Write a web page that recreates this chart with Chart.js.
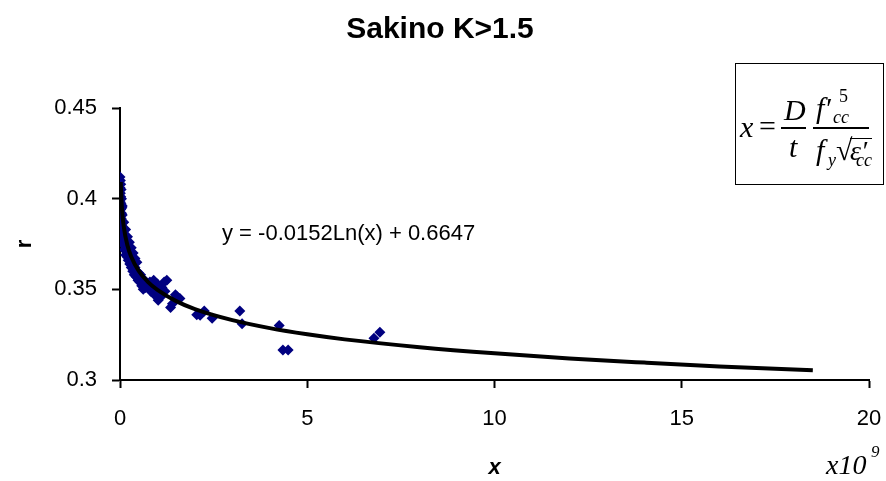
<!DOCTYPE html>
<html>
<head>
<meta charset="utf-8">
<script src="https://cdn.jsdelivr.net/npm/chart.js@4/dist/chart.umd.min.js"></script>
<style>
body{margin:0;background:#fff;}
#wrap{position:relative;width:886px;height:481px;}
.m{position:absolute;font-family:'Liberation Serif','Times New Roman',serif;font-style:italic;line-height:1;white-space:nowrap;color:#000;}
#box{position:absolute;left:735px;top:63px;width:149px;height:122px;border:1.5px solid #000;box-sizing:border-box;}
.bar{position:absolute;height:1.5px;background:#000;}
#eq{position:absolute;left:222px;top:220px;font:22px 'Liberation Sans',Arial,sans-serif;white-space:nowrap;}
</style>
</head>
<body>
<div id="wrap">
<canvas id="c" width="886" height="481"></canvas>
<div id="eq">y = -0.0152Ln(x) + 0.6647</div>
<div id="box">
  <span class="m" style="left:4px;top:48px;font-size:30px;">x</span>
  <span class="m" style="left:23px;top:47px;font-size:30px;font-style:normal;">=</span>
  <span class="m" style="left:48px;top:31px;font-size:30px;">D</span>
  <div class="bar" style="left:45px;top:63px;width:25px;"></div>
  <span class="m" style="left:53px;top:68px;font-size:30px;">t</span>
  <span class="m" style="left:80px;top:29px;font-size:30px;">f′</span>
  <span class="m" style="left:103px;top:23px;font-size:18px;font-style:normal;">5</span>
  <span class="m" style="left:97px;top:44px;font-size:18px;">cc</span>
  <div class="bar" style="left:77px;top:63px;width:56px;"></div>
  <span class="m" style="left:80px;top:71px;font-size:30px;">f</span>
  <span class="m" style="left:92px;top:87px;font-size:18px;">y</span>
  <span class="m" style="left:100px;top:71px;font-size:30px;font-style:normal;">√</span>
  <div class="bar" style="left:114px;top:74px;width:22px;height:1px;"></div>
  <span class="m" style="left:114px;top:73px;font-size:28px;">ε′</span>
  <span class="m" style="left:120px;top:87px;font-size:18px;">cc</span>
</div>
<span class="m" style="left:826px;top:451px;font-size:28px;">x10</span>
<span class="m" style="left:871px;top:443px;font-size:17px;">9</span>
</div>
<script>
// measured points, x in units of 10^9
var ptX = [0.00,0.01,0.02,0.00,0.03,0.01,0.02,0.04,0.01,0.03,0.05,0.02,0.04,0.06,0.03,0.05,0.08,0.04,0.07,0.10,
  0.06,0.09,0.12,0.08,0.11,0.14,0.10,0.13,0.17,0.12,0.16,0.20,0.15,0.19,0.24,0.22,0.28,0.26,0.32,0.30,
  0.36,0.34,0.40,0.38,0.45,0.43,0.50,0.48,0.55,0.53,0.60,0.58,0.65,0.62,0.70,0.68,0.75,0.80,0.85,0.90,
  0.95,1.00,0.82,0.92,1.02,1.05,1.12,1.18,1.25,1.10,1.20,1.35,1.40,1.48,1.52,1.60,2.05,2.14,2.25,2.46,
  3.20,3.26,4.25,4.35,4.49,6.78,6.94,
  0.06,0.10,0.15,0.20,0.25,0.30,0.35,0.40,0.45];
var ptY = [0.412,0.410,0.408,0.406,0.405,0.403,0.401,0.400,0.398,0.397,0.395,0.394,0.392,0.391,0.389,0.388,0.387,0.385,0.384,0.383,
  0.381,0.380,0.380,0.378,0.377,0.376,0.375,0.374,0.374,0.372,0.371,0.371,0.369,0.368,0.369,0.366,0.367,0.364,0.366,0.362,
  0.364,0.360,0.362,0.358,0.360,0.357,0.359,0.355,0.358,0.354,0.356,0.352,0.355,0.350,0.354,0.351,0.353,0.354,0.352,0.355,
  0.350,0.353,0.349,0.347,0.344,0.348,0.351,0.354,0.355,0.346,0.349,0.340,0.342,0.347,0.346,0.345,0.336,0.3357,0.338,0.334,
  0.338,0.331,0.330,0.3165,0.3165,0.323,0.3264,
  0.396,0.387,0.383,0.379,0.376,0.373,0.370,0.367,0.365];

// log trend line
var trendX = [0.02,0.05,0.1,0.2,0.3,0.5,0.75,1,1.5,2,3,4,5,6,8,10,12,14,16,18.5];
var trendY = [0.4092,0.3952,0.3847,0.3742,0.3680,0.3602,0.3540,0.3497,0.3435,0.3391,0.3330,0.3286,0.3252,0.3224,0.3181,0.3147,0.3119,0.3096,0.3075,0.3054];

var xTicks = [0,5,10,15,20];
var yTicks = [0.3,0.35,0.4,0.45];

var pts = ptX.map(function(x,i){ return {x:x, y:ptY[i]}; });
var trend = trendX.map(function(x,i){ return {x:x, y:trendY[i]}; });

var tickFont = {family:"'Liberation Sans', Arial, sans-serif", size:22};

new Chart(document.getElementById('c').getContext('2d'), {
  type: 'scatter',
  data: {
    datasets: [
      {label:'trend', data:trend, showLine:true, borderColor:'#000', borderWidth:4,
       pointRadius:0, cubicInterpolationMode:'monotone', order:0},
      {label:'r', data:pts, pointStyle:'rectRot', pointRadius:5.5,
       backgroundColor:'#000080', borderColor:'#000080', borderWidth:0, order:1}
    ]
  },
  options: {
    responsive:false, animation:false,
    layout:{autoPadding:false, padding:{left:0, right:6, top:0, bottom:0}},
    plugins:{
      legend:{display:false}, tooltip:{enabled:false},
      title:{display:true, text:'Sakino K>1.5', color:'#000',
        font:{family:"'Liberation Sans', Arial, sans-serif", size:30, weight:'bold'},
        padding:{top:12, bottom:60}}
    },
    scales:{
      x:{type:'linear', min:0, max:20,
        afterBuildTicks:function(s){ s.ticks = xTicks.map(function(v){return {value:v};}); },
        afterFit:function(s){ s.height = 101; s.paddingRight = 17; },
        grid:{drawOnChartArea:false, drawTicks:true, tickLength:8, tickColor:'#000', tickWidth:2},
        border:{display:true, color:'#000', width:2},
        ticks:{color:'#000', font:tickFont, padding:18, maxRotation:0},
        title:{display:true, text:'x', color:'#000',
          font:{family:"'Liberation Sans', Arial, sans-serif", size:22, weight:'bold', style:'italic'},
          padding:{top:0, bottom:0}}
      },
      y:{type:'linear', min:0.3, max:0.45,
        afterBuildTicks:function(s){ s.ticks = yTicks.map(function(v){return {value:v};}); },
        afterFit:function(s){ s.width = 120; },
        grid:{drawOnChartArea:false, drawTicks:true, tickLength:8, tickColor:'#000', tickWidth:2},
        border:{display:true, color:'#000', width:2},
        ticks:{color:'#000', font:tickFont, padding:15,
          callback:function(v){ return String(+v.toFixed(2)); }},
        title:{display:true, text:'r', color:'#000',
          font:{family:"'Liberation Sans', Arial, sans-serif", size:22, weight:'bold'},
          padding:{top:12, bottom:0}}
      }
    }
  }
});
</script>
</body>
</html>
